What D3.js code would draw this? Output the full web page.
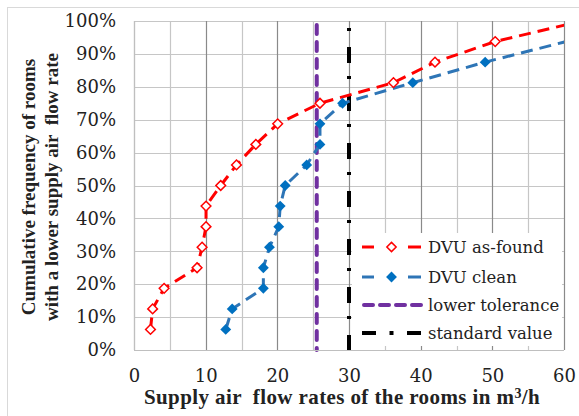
<!DOCTYPE html>
<html><head><meta charset="utf-8">
<script src="https://cdn.jsdelivr.net/npm/d3@7"></script>
<style>body{margin:0;background:#fff}svg{display:block}text{font-family:"Liberation Serif",serif;fill:#222}</style>
</head><body><svg id="c" width="579" height="416"></svg>
<script>
// Data
const yFractions = [0.0625,0.125,0.1875,0.25,0.3125,0.375,0.4375,0.5,0.5625,0.625,0.6875,0.75,0.8125,0.875,0.9375,1.0];
const asFound = [2.3,2.6,4.2,8.8,9.5,10.05,10.05,12.1,14.3,17.0,20.05,25.95,36.2,42.0,50.4,62.5];
const clean   = [12.8,13.7,18.05,18.05,18.9,20.2,20.4,21.1,24.1,25.95,25.95,29.1,38.9,49.0,60.3,66];
const lowerTolerance = 25.5;
const standardValue = 30;
const xTicks = [0,10,20,30,40,50,60];
const yTicks = [0,0.1,0.2,0.3,0.4,0.5,0.6,0.7,0.8,0.9,1.0];
const legendLabels = ["DVU as-found","DVU clean","lower tolerance","standard value"];

const svg = d3.select("#c");
const L=134,R=564,T=21,B=350;
const x = d3.scaleLinear().domain([0,60]).range([L,R]);
const y = d3.scaleLinear().domain([0,1]).range([B,T]);

svg.append("rect").attr("x",7.5).attr("y",7.5).attr("width",600).attr("height",500)
  .attr("fill","#fff").attr("stroke","#d9d9d9");

// grid
const g = svg.append("g");
g.selectAll(".hg").data(yTicks).join("line")
  .attr("x1",L).attr("x2",R).attr("y1",d=>Math.round(y(d))+0.5).attr("y2",d=>Math.round(y(d))+0.5)
  .attr("stroke","#c6c6c6").attr("stroke-width",1.2);
const vgrid = d3.range(0,61,5);
g.selectAll(".vg").data(vgrid).join("line")
  .attr("y1",T).attr("y2",B).attr("x1",d=>Math.round(x(d))+0.5).attr("x2",d=>Math.round(x(d))+0.5)
  .attr("stroke",d=>(d%10===0&&d>0)?"#8a8a8a":"#c6c6c6").attr("stroke-width",1.2);

// axes tick labels
const tickFont = '"DejaVu Serif", serif';
const xa = svg.append("g").attr("transform",`translate(0,${B})`)
  .call(d3.axisBottom(x).tickValues(xTicks).tickSize(0).tickPadding(19).tickFormat(d3.format("d")));
xa.select(".domain").remove();
xa.selectAll("text").style("font-size","18px").style("font-family",tickFont).attr("fill","#262626");
const ya = svg.append("g").attr("transform",`translate(${L},0)`)
  .call(d3.axisLeft(y).tickValues(yTicks).tickSize(0).tickPadding(18).tickFormat(d3.format(".0%")));
ya.select(".domain").remove();
ya.selectAll("text").style("font-size","18px").style("font-family",tickFont).attr("fill","#262626");

// clip
svg.append("clipPath").attr("id","clip").append("rect").attr("x",L).attr("y",T-8).attr("width",R-L).attr("height",B-T+16);

const plot = svg.append("g").attr("clip-path","url(#clip)");
// reference lines
plot.append("line").attr("x1",x(lowerTolerance)).attr("x2",x(lowerTolerance)).attr("y1",T+4).attr("y2",B)
  .attr("stroke","#7030A0").attr("stroke-width",4).attr("stroke-dasharray","9,8").attr("stroke-linecap","round");
plot.append("line").attr("x1",x(standardValue)).attr("x2",x(standardValue)).attr("y1",T).attr("y2",B)
  .attr("stroke","#000").attr("stroke-width",4).attr("stroke-dasharray","16,13,3,16").attr("stroke-dashoffset",22);

const line = d3.line().x(d=>x(d[0])).y(d=>y(d[1]));
const redData = asFound.map((v,i)=>[v,yFractions[i]]);
const blueData = clean.map((v,i)=>[v,yFractions[i]]);
plot.append("path").datum(redData).attr("d",line).attr("fill","none").attr("stroke","#FF0000")
  .attr("stroke-width",3).attr("stroke-dasharray","12,7");
plot.append("path").datum(blueData).attr("d",line).attr("fill","none").attr("stroke","#2E75B6")
  .attr("stroke-width",3).attr("stroke-dasharray","12,7");

const diamond = d3.symbol().type(d3.symbolDiamond2).size(75);
plot.selectAll(".bm").data(blueData.filter(d=>d[0]<=60)).join("path")
  .attr("d",diamond).attr("transform",d=>`translate(${x(d[0])},${y(d[1])})`).attr("fill","#0070C0");
plot.selectAll(".rm").data(redData.filter(d=>d[0]<=60)).join("path")
  .attr("d",d3.symbol().type(d3.symbolDiamond2).size(60)).attr("transform",d=>`translate(${x(d[0])},${y(d[1])})`)
  .attr("fill","#fff").attr("stroke","#FF0000").attr("stroke-width",1.5);

// plot border right/bottom axis
svg.append("line").attr("x1",L).attr("x2",R).attr("y1",B+0.5).attr("y2",B+0.5).attr("stroke","#bfbfbf").attr("stroke-width",1.2);
svg.append("line").attr("x1",L+0.5).attr("x2",L+0.5).attr("y1",T).attr("y2",B).attr("stroke","#bfbfbf").attr("stroke-width",1.2);

// legend
const lg = svg.append("g");
lg.append("rect").attr("x",352).attr("y",233).attr("width",210).attr("height",113).attr("fill","#fff");
const rows=[247,277,305,333];
[[362,374],[408,421]].forEach(s=>lg.append("line").attr("x1",s[0]).attr("x2",s[1]).attr("y1",rows[0]).attr("y2",rows[0]).attr("stroke","#FF0000").attr("stroke-width",3));
lg.append("path").attr("d",d3.symbol().type(d3.symbolDiamond2).size(55)).attr("transform",`translate(391.5,${rows[0]})`).attr("fill","#fff").attr("stroke","#FF0000").attr("stroke-width",1.5);
[[362,374],[408,421]].forEach(s=>lg.append("line").attr("x1",s[0]).attr("x2",s[1]).attr("y1",rows[1]).attr("y2",rows[1]).attr("stroke","#2E75B6").attr("stroke-width",3));
lg.append("path").attr("d",diamond).attr("transform",`translate(391.5,${rows[1]})`).attr("fill","#0070C0");
lg.append("line").attr("x1",364).attr("x2",421).attr("y1",rows[2]).attr("y2",rows[2]).attr("stroke","#7030A0").attr("stroke-width",4).attr("stroke-dasharray","9,7").attr("stroke-linecap","round");
[[362,376],[389.5,393.5],[407,421]].forEach(s=>lg.append("line").attr("x1",s[0]).attr("x2",s[1]).attr("y1",rows[3]).attr("y2",rows[3]).attr("stroke","#000").attr("stroke-width",4));
lg.selectAll(".lt").data(legendLabels).join("text").attr("x",428).attr("y",(d,i)=>rows[i]+6)
  .style("font-size","16.5px").style("font-family",tickFont).attr("fill","#262626").text(d=>d);

// titles
svg.append("text").attr("x",342).attr("y",404).attr("text-anchor","middle").style("font-size","21px").style("font-weight","bold").style("letter-spacing","0.4px").style("white-space","pre")
  .html('Supply air  flow rates of the rooms in m<tspan dy="-6" style="font-size:14px">3</tspan><tspan dy="6">/h</tspan>');
const yt = svg.append("text").attr("transform","translate(35,187) rotate(-90)").attr("text-anchor","middle").style("font-size","19px").style("font-weight","bold").style("white-space","pre");
yt.append("tspan").attr("x",0).attr("y",0).text("Cumulative frequency of rooms");
yt.append("tspan").attr("x",0).attr("y",23).text("with a lower supply air  flow rate");
</script></body></html>
